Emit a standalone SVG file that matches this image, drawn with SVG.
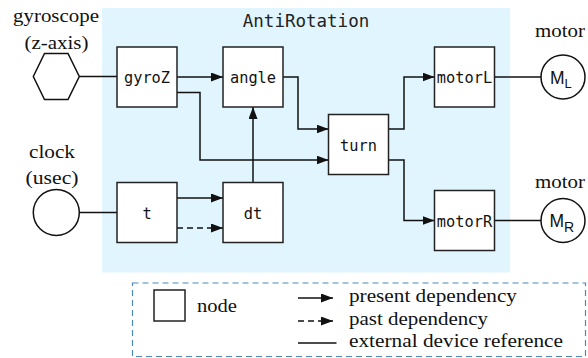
<svg xmlns="http://www.w3.org/2000/svg" width="588" height="358" viewBox="0 0 588 358">
<style>
.box{fill:#fff;stroke:#222;stroke-width:1.5}
.lbl{font-family:"DejaVu Sans Mono",monospace;font-size:15.3px;fill:#111;text-anchor:middle}
.ser{font-family:"Liberation Serif","Times New Roman",serif;font-size:19px;fill:#111}
.mid{text-anchor:middle}
.ln{fill:none;stroke:#111;stroke-width:1.5}
.arr{marker-end:url(#ah)}
.dash{stroke-dasharray:6 4}
.dev{fill:#fff;stroke:#111;stroke-width:1.5}
.sans{font-family:"Liberation Sans",Arial,sans-serif;fill:#111}
</style>
<defs>
<marker id="ah" markerUnits="userSpaceOnUse" markerWidth="12" markerHeight="9" refX="12" refY="4.5" orient="auto">
<path d="M0,0 L12,4.5 L0,9 z" fill="#111"/>
</marker>
</defs>
<g id="panel">
<rect x="102" y="8" width="408" height="264.5" fill="#e1f5fe"/>
<text x="306" y="27" style="font-family:'DejaVu Sans Mono',monospace;font-size:17.5px;fill:#222;text-anchor:middle">AntiRotation</text>
</g>
<g id="connectors">
<path class="ln" d="M79,76.5 H117"/>
<path class="ln" d="M79,212.5 H117"/>
<path class="ln" d="M494.5,77 H541"/>
<path class="ln" d="M494.5,220.5 H541"/>
<path class="ln arr" d="M177,77 H223"/>
<path class="ln arr" d="M177,92.5 H200 V160 H328.5"/>
<path class="ln arr" d="M283,77 H298 V129 H328.5"/>
<path class="ln arr" d="M253,182.5 V107"/>
<path class="ln arr" d="M177,198 H223"/>
<path class="ln arr dash" d="M177,228 H223"/>
<path class="ln arr" d="M388.5,129 H404 V77 H434.5"/>
<path class="ln arr" d="M388.5,160 H404 V220.5 H434.5"/>
</g>
<g id="gyroscope">
<polygon class="dev" points="33.3,76.5 44.5,53.5 68,53.5 79.3,76.5 68,99.5 44.5,99.5"/>
<text class="ser mid" x="56" y="22" textLength="86" lengthAdjust="spacingAndGlyphs">gyroscope</text>
<text class="ser mid" x="56.5" y="49" textLength="64" lengthAdjust="spacingAndGlyphs">(z-axis)</text>
</g>
<g id="clock">
<circle class="dev" cx="56.3" cy="212.5" r="23"/>
<text class="ser mid" x="52" y="158" textLength="46" lengthAdjust="spacingAndGlyphs">clock</text>
<text class="ser mid" x="52" y="184" textLength="53" lengthAdjust="spacingAndGlyphs">(usec)</text>
</g>
<g id="motorLdev">
<circle class="dev" cx="563" cy="77" r="22"/>
<text class="ser mid" x="560" y="37" textLength="50" lengthAdjust="spacingAndGlyphs">motor</text>
<text class="sans" x="550" y="83.5" font-size="17.5">M<tspan dy="4" font-size="13">L</tspan></text>
</g>
<g id="motorRdev">
<circle class="dev" cx="563" cy="220.5" r="22"/>
<text class="ser mid" x="560" y="188" textLength="50" lengthAdjust="spacingAndGlyphs">motor</text>
<text class="sans" x="549.5" y="226.5" font-size="17.5">M<tspan dy="5" font-size="14">R</tspan></text>
</g>
<g id="gyroZ"><rect class="box" x="117" y="47" width="60" height="60"/><text class="lbl" x="147" y="83.3">gyroZ</text></g>
<g id="angle"><rect class="box" x="223" y="47" width="60" height="60"/><text class="lbl" x="253" y="83.3">angle</text></g>
<g id="turn"><rect class="box" x="328.5" y="114.5" width="60" height="60"/><text class="lbl" x="358.5" y="151">turn</text></g>
<g id="motorL"><rect class="box" x="434.5" y="47" width="60" height="60"/><text class="lbl" x="464.5" y="83.3">motorL</text></g>
<g id="motorR"><rect class="box" x="434.5" y="190.5" width="60" height="60"/><text class="lbl" x="464.5" y="226.8">motorR</text></g>
<g id="t"><rect class="box" x="117" y="182.5" width="60" height="60"/><text class="lbl" x="147" y="219">t</text></g>
<g id="dt"><rect class="box" x="223" y="182.5" width="60" height="60"/><text class="lbl" x="253" y="219">dt</text></g>
<g id="legend">
<rect x="132.5" y="283" width="453" height="73.5" fill="#fff" stroke="#4a88c0" stroke-width="1.2" stroke-dasharray="6 4"/>
<rect class="box" x="154" y="290" width="31" height="31"/>
<text class="ser" x="197" y="311.5" textLength="40" lengthAdjust="spacingAndGlyphs">node</text>
<path class="ln arr" d="M298,298 H333"/>
<path class="ln arr dash" d="M298,321 H333"/>
<path class="ln" d="M298,343 H336.5"/>
<text class="ser" x="349" y="302" textLength="168" lengthAdjust="spacingAndGlyphs">present dependency</text>
<text class="ser" x="349" y="325" textLength="139" lengthAdjust="spacingAndGlyphs">past dependency</text>
<text class="ser" x="349" y="347" textLength="214" lengthAdjust="spacingAndGlyphs">external device reference</text>
</g>
</svg>
